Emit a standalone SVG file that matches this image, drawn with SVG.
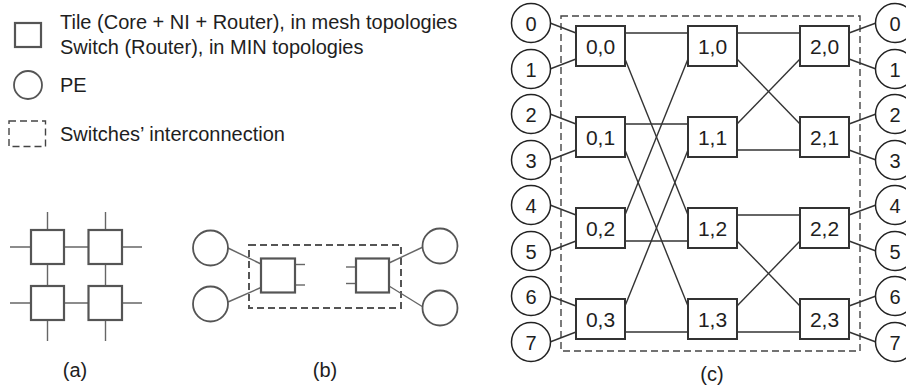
<svg xmlns="http://www.w3.org/2000/svg" width="906" height="392" viewBox="0 0 906 392">
<style>
text{font-family:"Liberation Sans",Arial,sans-serif;fill:#1e1e1e}
.leg{font-size:20px}
.lbl{font-size:21px;text-anchor:middle}
.pe{font-size:20px;text-anchor:middle}
.cap{font-size:20px;text-anchor:middle}
.sq{fill:#fff;stroke:#333;stroke-width:2}
.sqa{fill:#fff;stroke:#555;stroke-width:2.2}
.pc{fill:#fff;stroke:#222;stroke-width:1.5}
.pcb{fill:#fff;stroke:#555;stroke-width:1.8}
.ln{stroke:#333;stroke-width:1.4;fill:none}
.lna{stroke:#666;stroke-width:1.4;fill:none}
.dash{fill:none;stroke:#444;stroke-width:1.4;stroke-dasharray:7 4}
.dashb{fill:none;stroke:#555;stroke-width:2;stroke-dasharray:7 4}
</style>

<!-- Legend -->
<g id="legend">
  <rect x="15" y="23" width="26" height="24" class="sqa"/>
  <text class="leg" x="60" y="29">Tile (Core + NI + Router), in mesh topologies</text>
  <text class="leg" x="60" y="54">Switch (Router), in MIN topologies</text>
  <circle cx="28" cy="85" r="14" class="pcb"/>
  <text class="leg" x="60" y="92">PE</text>
  <rect x="9" y="121" width="36.5" height="25.5" class="dash"/>
  <text class="leg" x="60" y="141">Switches’ interconnection</text>
</g>

<!-- Panel (a) -->
<g id="panel-a">
  <g class="lna">
    <line x1="47.5" y1="212" x2="47.5" y2="341"/>
    <line x1="105.5" y1="212" x2="105.5" y2="341"/>
    <line x1="10" y1="247" x2="142" y2="247"/>
    <line x1="10" y1="303" x2="142" y2="303"/>
  </g>
  <rect x="31" y="230" width="33" height="34" class="sqa"/>
  <rect x="88.5" y="230" width="33.5" height="34" class="sqa"/>
  <rect x="31" y="286" width="33" height="34" class="sqa"/>
  <rect x="88.5" y="286" width="33.5" height="34" class="sqa"/>
  <text class="cap" x="75" y="377">(a)</text>
</g>

<!-- Panel (b) -->
<g id="panel-b">
  <rect x="249" y="245" width="152" height="63" class="dashb"/>
  <g class="lna">
    <line x1="228" y1="248" x2="261" y2="264"/>
    <line x1="228" y1="302" x2="261" y2="287.5"/>
    <line x1="295" y1="264.5" x2="305" y2="264.5"/>
    <line x1="295" y1="285" x2="305" y2="285"/>
    <line x1="346" y1="267" x2="356" y2="267"/>
    <line x1="346" y1="283.5" x2="356" y2="283.5"/>
    <line x1="389" y1="263" x2="423" y2="247"/>
    <line x1="389" y1="286" x2="423" y2="307"/>
  </g>
  <circle cx="210.5" cy="248" r="17.5" class="pcb"/>
  <circle cx="210.5" cy="304" r="17.5" class="pcb"/>
  <circle cx="440" cy="246" r="17.5" class="pcb"/>
  <circle cx="440" cy="308" r="17.5" class="pcb"/>
  <rect x="261" y="258.5" width="34" height="34" class="sqa"/>
  <rect x="356" y="258.5" width="33" height="34" class="sqa"/>
  <text class="cap" x="325" y="377">(b)</text>
</g>

<!-- Panel (c) -->
<rect x="561" y="16" width="299" height="335" class="dash"/>

<g id="connectors" class="ln">
  <!-- PE left to stage 0 -->
  <line x1="550" y1="23" x2="576" y2="33"/>
  <line x1="550" y1="69" x2="576" y2="59"/>
  <line x1="550" y1="114" x2="576" y2="124"/>
  <line x1="550" y1="160" x2="576" y2="150"/>
  <line x1="550" y1="205" x2="576" y2="215"/>
  <line x1="550" y1="251" x2="576" y2="241"/>
  <line x1="550" y1="296" x2="576" y2="306"/>
  <line x1="550" y1="342" x2="576" y2="332"/>
  <!-- stage 0 to stage 1 -->
  <line x1="625" y1="33" x2="688" y2="33"/>
  <line x1="625" y1="59" x2="688" y2="215"/>
  <line x1="625" y1="124" x2="688" y2="124"/>
  <line x1="625" y1="150" x2="688" y2="306"/>
  <line x1="625" y1="215" x2="688" y2="59"/>
  <line x1="625" y1="241" x2="688" y2="241"/>
  <line x1="625" y1="306" x2="688" y2="150"/>
  <line x1="625" y1="332" x2="688" y2="332"/>
  <!-- stage 1 to stage 2 -->
  <line x1="737" y1="33" x2="800" y2="33"/>
  <line x1="737" y1="59" x2="800" y2="124"/>
  <line x1="737" y1="124" x2="800" y2="59"/>
  <line x1="737" y1="150" x2="800" y2="150"/>
  <line x1="737" y1="215" x2="800" y2="215"/>
  <line x1="737" y1="241" x2="800" y2="306"/>
  <line x1="737" y1="306" x2="800" y2="241"/>
  <line x1="737" y1="332" x2="800" y2="332"/>
  <!-- stage 2 to PE right -->
  <line x1="849" y1="33" x2="876" y2="23"/>
  <line x1="849" y1="59" x2="876" y2="69"/>
  <line x1="849" y1="124" x2="876" y2="114"/>
  <line x1="849" y1="150" x2="876" y2="160"/>
  <line x1="849" y1="215" x2="876" y2="205"/>
  <line x1="849" y1="241" x2="876" y2="251"/>
  <line x1="849" y1="306" x2="876" y2="296"/>
  <line x1="849" y1="332" x2="876" y2="342"/>
</g>

<!-- Left PEs -->
<g id="pe-l0"><circle cx="531" cy="23" r="19.5" class="pc"/><text class="pe" x="531" y="30.5">0</text></g>
<g id="pe-l1"><circle cx="531" cy="69" r="19.5" class="pc"/><text class="pe" x="531" y="76.5">1</text></g>
<g id="pe-l2"><circle cx="531" cy="114" r="19.5" class="pc"/><text class="pe" x="531" y="121.5">2</text></g>
<g id="pe-l3"><circle cx="531" cy="160" r="19.5" class="pc"/><text class="pe" x="531" y="167.5">3</text></g>
<g id="pe-l4"><circle cx="531" cy="205" r="19.5" class="pc"/><text class="pe" x="531" y="212.5">4</text></g>
<g id="pe-l5"><circle cx="531" cy="251" r="19.5" class="pc"/><text class="pe" x="531" y="258.5">5</text></g>
<g id="pe-l6"><circle cx="531" cy="296" r="19.5" class="pc"/><text class="pe" x="531" y="303.5">6</text></g>
<g id="pe-l7"><circle cx="531" cy="342" r="19.5" class="pc"/><text class="pe" x="531" y="349.5">7</text></g>

<!-- Right PEs -->
<g id="pe-r0"><circle cx="895" cy="23" r="19.5" class="pc"/><text class="pe" x="895" y="30.5">0</text></g>
<g id="pe-r1"><circle cx="895" cy="69" r="19.5" class="pc"/><text class="pe" x="895" y="76.5">1</text></g>
<g id="pe-r2"><circle cx="895" cy="114" r="19.5" class="pc"/><text class="pe" x="895" y="121.5">2</text></g>
<g id="pe-r3"><circle cx="895" cy="160" r="19.5" class="pc"/><text class="pe" x="895" y="167.5">3</text></g>
<g id="pe-r4"><circle cx="895" cy="205" r="19.5" class="pc"/><text class="pe" x="895" y="212.5">4</text></g>
<g id="pe-r5"><circle cx="895" cy="251" r="19.5" class="pc"/><text class="pe" x="895" y="258.5">5</text></g>
<g id="pe-r6"><circle cx="895" cy="296" r="19.5" class="pc"/><text class="pe" x="895" y="303.5">6</text></g>
<g id="pe-r7"><circle cx="895" cy="342" r="19.5" class="pc"/><text class="pe" x="895" y="349.5">7</text></g>

<!-- Switches -->
<g id="sw-0-0"><rect x="576" y="26" width="49" height="40" class="sq"/><text class="lbl" x="600.5" y="53.5">0,0</text></g>
<g id="sw-0-1"><rect x="576" y="117" width="49" height="40" class="sq"/><text class="lbl" x="600.5" y="144.5">0,1</text></g>
<g id="sw-0-2"><rect x="576" y="208" width="49" height="40" class="sq"/><text class="lbl" x="600.5" y="235.5">0,2</text></g>
<g id="sw-0-3"><rect x="576" y="299" width="49" height="40" class="sq"/><text class="lbl" x="600.5" y="326.5">0,3</text></g>
<g id="sw-1-0"><rect x="688" y="26" width="49" height="40" class="sq"/><text class="lbl" x="712.5" y="53.5">1,0</text></g>
<g id="sw-1-1"><rect x="688" y="117" width="49" height="40" class="sq"/><text class="lbl" x="712.5" y="144.5">1,1</text></g>
<g id="sw-1-2"><rect x="688" y="208" width="49" height="40" class="sq"/><text class="lbl" x="712.5" y="235.5">1,2</text></g>
<g id="sw-1-3"><rect x="688" y="299" width="49" height="40" class="sq"/><text class="lbl" x="712.5" y="326.5">1,3</text></g>
<g id="sw-2-0"><rect x="800" y="26" width="49" height="40" class="sq"/><text class="lbl" x="824.5" y="53.5">2,0</text></g>
<g id="sw-2-1"><rect x="800" y="117" width="49" height="40" class="sq"/><text class="lbl" x="824.5" y="144.5">2,1</text></g>
<g id="sw-2-2"><rect x="800" y="208" width="49" height="40" class="sq"/><text class="lbl" x="824.5" y="235.5">2,2</text></g>
<g id="sw-2-3"><rect x="800" y="299" width="49" height="40" class="sq"/><text class="lbl" x="824.5" y="326.5">2,3</text></g>

<text class="cap" x="712" y="381">(c)</text>
</svg>
